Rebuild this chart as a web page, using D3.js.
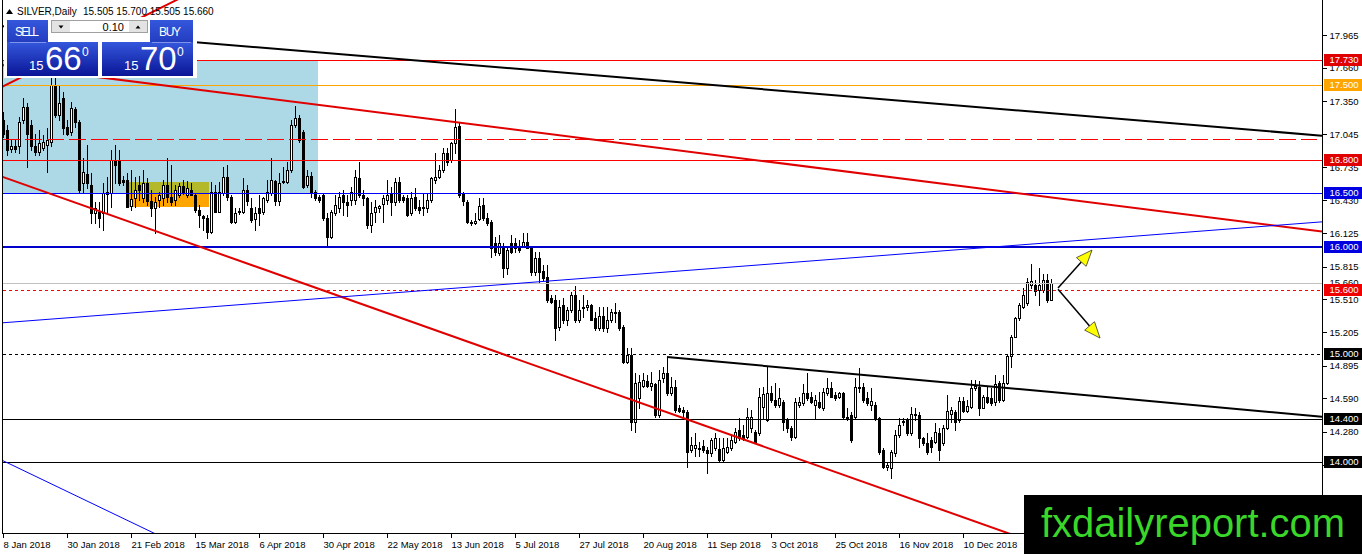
<!DOCTYPE html>
<html>
<head>
<meta charset="utf-8">
<script src="https://cdn.jsdelivr.net/npm/d3@7"></script>
<style>
  html, body { margin: 0; padding: 0; background: #fff; }
  svg { display: block; font-family: "Liberation Sans", Arial, sans-serif; }
</style>
</head>
<body>
<svg id="chart" width="1362" height="554"></svg>
<script>
// -----------------------------
// Data (SILVER daily)
// -----------------------------
const SYMBOL = "SILVER,Daily";

const OPEN = [
  17.18, 17.08, 16.91, 16.93, 16.93, 17.18, 17.30, 17.13, 16.93, 16.88,
  16.92, 16.94, 16.97, 17.50, 17.22, 17.38, 17.11, 17.06, 17.28, 17.16,
  16.59, 16.67, 16.57, 16.31, 16.32, 16.31, 16.49, 16.50, 16.80, 16.80,
  16.62, 16.62, 16.38, 16.45, 16.57, 16.45, 16.59, 16.42, 16.36, 16.43,
  16.45, 16.57, 16.46, 16.43, 16.48, 16.56, 16.48, 16.53, 16.48, 16.34,
  16.28, 16.27, 16.14, 16.51, 16.32, 16.50, 16.65, 16.46, 16.23, 16.33,
  16.32, 16.53, 16.36, 16.26, 16.36, 16.32, 16.43, 16.50, 16.61, 16.42,
  16.61, 16.60, 16.71, 17.13, 17.19, 17.06, 16.57, 16.66, 16.51, 16.46,
  16.48, 16.27, 16.09, 16.31, 16.36, 16.48, 16.41, 16.43, 16.43, 16.64,
  16.48, 16.45, 16.20, 16.32, 16.36, 16.40, 16.43, 16.50, 16.41, 16.60,
  16.46, 16.45, 16.31, 16.46, 16.37, 16.36, 16.36, 16.43, 16.62, 16.65,
  16.71, 16.87, 16.80, 16.96, 17.12, 16.50, 16.41, 16.23, 16.22, 16.26,
  16.39, 16.27, 16.23, 16.03, 15.94, 16.00, 15.80, 16.03, 16.03, 16.01,
  16.01, 16.04, 15.99, 15.76, 15.89, 15.77, 15.72, 15.52, 15.50, 15.25,
  15.46, 15.32, 15.41, 15.55, 15.32, 15.43, 15.44, 15.46, 15.34, 15.24,
  15.36, 15.24, 15.32, 15.38, 15.39, 15.25, 14.93, 14.99, 14.37, 14.59,
  14.71, 14.75, 14.71, 14.72, 14.44, 14.78, 14.83, 14.64, 14.70, 14.50,
  14.48, 14.46, 14.11, 14.13, 14.12, 14.15, 14.11, 14.08, 14.13, 14.12,
  14.02, 14.09, 14.13, 14.19, 14.30, 14.25, 14.23, 14.32, 14.28, 14.27,
  14.51, 14.39, 14.64, 14.58, 14.53, 14.56, 14.39, 14.32, 14.23, 14.53,
  14.55, 14.64, 14.60, 14.53, 14.56, 14.50, 14.64, 14.69, 14.62, 14.60,
  14.64, 14.42, 14.44, 14.42, 14.69, 14.70, 14.59, 14.53, 14.53, 14.41,
  14.11, 13.95, 13.94, 14.08, 14.25, 14.37, 14.39, 14.27, 14.45, 14.44,
  14.22, 14.18, 14.20, 14.19, 14.27, 14.18, 14.32, 14.45, 14.46, 14.39,
  14.57, 14.47, 14.51, 14.69, 14.70, 14.50, 14.60, 14.59, 14.56, 14.73,
  14.58, 14.73, 14.98, 15.16, 15.34, 15.44, 15.48, 15.64, 15.64, 15.60,
  15.60, 15.69, 15.505,
];

const HIGH = [
  17.25, 17.13, 16.99, 16.99, 17.20, 17.38, 17.33, 17.18, 17.05, 17.08,
  17.04, 17.10, 17.57, 17.58, 17.50, 17.44, 17.18, 17.34, 17.30, 17.18,
  16.82, 16.94, 16.68, 16.41, 16.41, 16.59, 16.65, 16.90, 16.94, 16.90,
  16.66, 16.68, 16.71, 16.65, 16.66, 16.71, 16.64, 16.53, 16.46, 16.51,
  16.62, 16.82, 16.76, 16.57, 16.59, 16.62, 16.61, 16.59, 16.50, 16.39,
  16.29, 16.29, 16.60, 16.57, 16.60, 16.74, 16.76, 16.48, 16.36, 16.36,
  16.64, 16.57, 16.45, 16.37, 16.48, 16.46, 16.62, 16.82, 16.62, 16.68,
  16.74, 16.79, 17.18, 17.31, 17.22, 17.08, 16.71, 16.69, 16.53, 16.48,
  16.49, 16.31, 16.34, 16.48, 16.51, 16.53, 16.48, 16.55, 16.71, 16.79,
  16.53, 16.46, 16.41, 16.43, 16.39, 16.48, 16.62, 16.55, 16.64, 16.65,
  16.48, 16.48, 16.51, 16.54, 16.43, 16.50, 16.50, 16.65, 16.87, 16.76,
  16.92, 16.92, 16.97, 17.28, 17.16, 16.51, 16.43, 16.25, 16.31, 16.45,
  16.45, 16.31, 16.25, 16.09, 16.11, 16.03, 16.00, 16.11, 16.08, 16.06,
  16.13, 16.13, 16.01, 15.95, 15.95, 15.83, 15.83, 15.55, 15.55, 15.50,
  15.52, 15.44, 15.58, 15.63, 15.50, 15.55, 15.50, 15.47, 15.39, 15.44,
  15.44, 15.44, 15.42, 15.48, 15.41, 15.27, 15.06, 15.06, 14.83, 14.81,
  14.83, 14.81, 14.84, 14.73, 14.85, 14.88, 14.97, 14.79, 14.76, 14.53,
  14.51, 14.48, 14.23, 14.27, 14.19, 14.20, 14.14, 14.22, 14.27, 14.22,
  14.22, 14.22, 14.25, 14.32, 14.41, 14.34, 14.50, 14.48, 14.30, 14.69,
  14.70, 14.88, 14.71, 14.73, 14.69, 14.58, 14.41, 14.33, 14.59, 14.60,
  14.72, 14.83, 14.65, 14.62, 14.65, 14.69, 14.78, 14.74, 14.65, 14.65,
  14.65, 14.50, 14.46, 14.78, 14.87, 14.73, 14.65, 14.69, 14.56, 14.42,
  14.13, 14.00, 14.11, 14.30, 14.41, 14.41, 14.41, 14.51, 14.50, 14.46,
  14.23, 14.27, 14.23, 14.36, 14.32, 14.34, 14.62, 14.51, 14.48, 14.60,
  14.60, 14.58, 14.76, 14.76, 14.75, 14.62, 14.70, 14.69, 14.81, 14.75,
  14.81, 14.99, 15.18, 15.35, 15.48, 15.62, 15.71, 15.84, 15.69, 15.80,
  15.75, 15.75, 15.70,
];

const LOW = [
  17.02, 16.85, 16.88, 16.88, 16.87, 17.15, 16.74, 16.90, 16.85, 16.85,
  16.90, 16.69, 16.93, 17.20, 17.18, 17.05, 17.04, 17.04, 17.11, 16.51,
  16.51, 16.54, 16.22, 16.22, 16.18, 16.15, 16.31, 16.37, 16.59, 16.57,
  16.57, 16.37, 16.34, 16.37, 16.43, 16.41, 16.39, 16.28, 16.13, 16.37,
  16.39, 16.41, 16.39, 16.39, 16.46, 16.49, 16.46, 16.48, 16.32, 16.18,
  16.15, 16.08, 16.13, 16.32, 16.32, 16.48, 16.43, 16.22, 16.22, 16.30,
  16.31, 16.39, 16.23, 16.15, 16.20, 16.30, 16.41, 16.48, 16.39, 16.39,
  16.59, 16.59, 16.69, 17.11, 16.97, 16.54, 16.55, 16.46, 16.43, 16.41,
  16.25, 16.01, 16.08, 16.29, 16.32, 16.29, 16.28, 16.39, 16.40, 16.46,
  16.39, 16.17, 16.14, 16.23, 16.32, 16.23, 16.40, 16.29, 16.39, 16.41,
  16.41, 16.28, 16.29, 16.34, 16.31, 16.29, 16.32, 16.41, 16.59, 16.64,
  16.69, 16.76, 16.79, 16.87, 16.46, 16.39, 16.22, 16.20, 16.21, 16.25,
  16.25, 16.20, 15.90, 15.92, 15.92, 15.72, 15.75, 15.94, 15.95, 15.95,
  16.00, 15.99, 15.74, 15.74, 15.66, 15.69, 15.49, 15.48, 15.13, 15.23,
  15.29, 15.27, 15.39, 15.30, 15.30, 15.35, 15.41, 15.32, 15.23, 15.23,
  15.22, 15.21, 15.30, 15.30, 15.23, 14.92, 14.92, 14.30, 14.28, 14.50,
  14.70, 14.70, 14.67, 14.42, 14.42, 14.74, 14.62, 14.62, 14.46, 14.46,
  14.42, 13.95, 14.09, 14.06, 14.06, 14.09, 13.90, 14.06, 14.11, 14.01,
  14.01, 14.08, 14.11, 14.18, 14.20, 14.20, 14.22, 14.28, 14.18, 14.25,
  14.41, 14.38, 14.56, 14.51, 14.51, 14.30, 14.28, 14.20, 14.22, 14.51,
  14.53, 14.58, 14.55, 14.41, 14.50, 14.48, 14.62, 14.60, 14.58, 14.59,
  14.41, 14.39, 14.19, 14.41, 14.65, 14.56, 14.53, 14.48, 14.39, 14.07,
  13.94, 13.93, 13.85, 14.06, 14.23, 14.34, 14.25, 14.25, 14.39, 14.14,
  14.16, 14.07, 14.09, 14.18, 14.02, 14.16, 14.31, 14.37, 14.30, 14.37,
  14.46, 14.46, 14.50, 14.67, 14.44, 14.50, 14.55, 14.53, 14.53, 14.56,
  14.57, 14.72, 14.88, 15.16, 15.32, 15.43, 15.46, 15.62, 15.55, 15.46,
  15.58, 15.49, 15.505,
];

const CLOSE = [
  17.05, 16.90, 16.93, 16.91, 17.16, 17.30, 17.05, 16.93, 16.88, 16.96,
  16.97, 16.99, 17.50, 17.22, 17.33, 17.10, 17.05, 17.29, 17.16, 16.53,
  16.69, 16.59, 16.31, 16.36, 16.27, 16.50, 16.51, 16.80, 16.76, 16.59,
  16.60, 16.37, 16.44, 16.53, 16.53, 16.59, 16.42, 16.36, 16.41, 16.48,
  16.57, 16.46, 16.41, 16.53, 16.56, 16.51, 16.54, 16.48, 16.34, 16.29,
  16.27, 16.14, 16.51, 16.32, 16.51, 16.65, 16.46, 16.23, 16.31, 16.32,
  16.53, 16.42, 16.25, 16.31, 16.31, 16.45, 16.51, 16.62, 16.42, 16.59,
  16.60, 16.71, 17.13, 17.19, 16.99, 16.55, 16.66, 16.50, 16.45, 16.43,
  16.27, 16.09, 16.32, 16.39, 16.46, 16.41, 16.39, 16.51, 16.65, 16.48,
  16.45, 16.20, 16.31, 16.37, 16.38, 16.45, 16.48, 16.41, 16.60, 16.43,
  16.43, 16.29, 16.45, 16.36, 16.34, 16.37, 16.43, 16.64, 16.65, 16.71,
  16.87, 16.79, 16.96, 17.11, 16.48, 16.42, 16.23, 16.22, 16.24, 16.38,
  16.27, 16.22, 15.99, 15.95, 16.03, 15.80, 15.97, 15.95, 15.99, 15.97,
  16.04, 15.99, 15.76, 15.89, 15.76, 15.71, 15.50, 15.49, 15.24, 15.44,
  15.32, 15.41, 15.55, 15.32, 15.41, 15.44, 15.46, 15.32, 15.24, 15.36,
  15.24, 15.32, 15.39, 15.39, 15.24, 14.93, 14.99, 14.37, 14.73, 14.74,
  14.76, 14.71, 14.73, 14.44, 14.76, 14.83, 14.64, 14.70, 14.48, 14.47,
  14.46, 14.09, 14.16, 14.16, 14.13, 14.11, 14.08, 14.20, 14.22, 14.02,
  14.13, 14.14, 14.20, 14.28, 14.22, 14.22, 14.42, 14.42, 14.19, 14.60,
  14.63, 14.64, 14.58, 14.53, 14.59, 14.37, 14.32, 14.23, 14.56, 14.56,
  14.64, 14.59, 14.56, 14.58, 14.51, 14.65, 14.69, 14.60, 14.59, 14.64,
  14.42, 14.41, 14.20, 14.70, 14.70, 14.58, 14.55, 14.57, 14.41, 14.09,
  13.95, 13.97, 14.09, 14.25, 14.34, 14.38, 14.27, 14.45, 14.44, 14.22,
  14.18, 14.09, 14.14, 14.28, 14.11, 14.32, 14.47, 14.48, 14.37, 14.57,
  14.47, 14.52, 14.69, 14.71, 14.50, 14.60, 14.56, 14.55, 14.72, 14.58,
  14.73, 14.98, 15.16, 15.34, 15.46, 15.55, 15.67, 15.68, 15.59, 15.64,
  15.69, 15.50, 15.66,
];

// date labels every 16 bars
const X_TICK_BARS = [0, 16, 32, 48, 64, 80, 96, 112, 128, 144, 160, 176, 192, 208, 224, 240];
const X_TICK_LABELS = [
  "8 Jan 2018", "30 Jan 2018", "21 Feb 2018", "15 Mar 2018", "6 Apr 2018",
  "30 Apr 2018", "22 May 2018", "13 Jun 2018", "5 Jul 2018", "27 Jul 2018",
  "20 Aug 2018", "11 Sep 2018", "3 Oct 2018", "25 Oct 2018", "16 Nov 2018",
  "10 Dec 2018",
];

const Y_TICKS = [17.965, 17.66, 17.35, 17.045, 16.735, 16.43, 16.125, 15.815,
  15.51, 15.205, 14.895, 14.59, 14.28, 13.975, 13.67];

// labelled horizontal levels
const LEVEL_NAMES = ["r1", "gold", "r2", "b1", "b2", "rdot", "kdot", "k1", "k2"];
const LEVEL_PRICES = [17.73, 17.5, 16.8, 16.5, 16.0, 15.6, 15.0, 14.4, 14.0];
const DASHED_LEVEL = { price: 17.0, endBar: 328.5 };

// trend lines: start/end as (bar, price)
const TREND_NAMES = ["topBlack", "redUpper", "redSteep", "redLower", "blueRise", "blueFall", "flagBlack"];
const TREND_START_BAR = [-1, -1, -1, -1, -1, -1, 166];
const TREND_START_PRICE = [18.05, 17.69, 17.47, 16.66, 15.29, 14.03, 14.975];
const TREND_END_BAR = [329.75, 329.75, 45, 255, 329.75, 45, 329.75];
const TREND_END_PRICE = [17.03, 16.14, 18.32, 13.29, 16.23, 13.21, 14.42];

// shaded zones
const ZONE_NAMES = ["range", "olive", "orange"];
const ZONE_BAR_START = [-1, 30.75, 30.75];
const ZONE_BAR_END = [78.75, 51.5, 51.5];
const ZONE_TOP = [17.73, 16.60, 16.50];
const ZONE_BOTTOM = [16.50, 16.50, 16.37];

// scenario arrows
const ARROW_FROM_BAR = [263.75, 263.75];
const ARROW_FROM_PRICE = [15.616, 15.605];
const ARROW_TO_BAR = [272.25, 274.25];
const ARROW_TO_PRICE = [15.968, 15.151];

// one click panel quotes
const SELL_QUOTE = ["15", "66", "0"];
const BUY_QUOTE = ["15", "70", "0"];
const LOT = "0.10";

// -----------------------------
// Setup
// -----------------------------
const svg = d3.select("#chart");
const plot = { left: 2.5, right: 1322.5, bottom: 533.5 };

const x = d3.scaleLinear().domain([0, 262]).range([3, 1051]);
const y = d3.scaleLinear().domain([14, 17.965]).range([462, 35]);
const fmt = d3.format(".3f");

const bars = OPEN.map((o, i) => ({ i, o, h: HIGH[i], l: LOW[i], c: CLOSE[i] }));
const last = bars[bars.length - 1];

const defs = svg.append("defs");
defs.append("clipPath").attr("id", "plotClip")
  .append("rect").attr("x", 3).attr("y", 0).attr("width", 1319).attr("height", 533);

const grad = defs.append("linearGradient").attr("id", "blueGrad")
  .attr("x1", 0).attr("y1", 0).attr("x2", 0).attr("y2", 1);
grad.append("stop").attr("offset", "0%").attr("stop-color", "#3457dc");
grad.append("stop").attr("offset", "100%").attr("stop-color", "#0a1596");

svg.append("rect").attr("width", 1362).attr("height", 554).attr("fill", "#fff");

const plotG = svg.append("g").attr("clip-path", "url(#plotClip)");

// -----------------------------
// Zones
// -----------------------------
const ZONE_COLORS = { range: "#add8e6", olive: "#b4b92c", orange: "#ffa500" };
plotG.append("g").attr("shape-rendering", "crispEdges")
  .selectAll("rect")
  .data(ZONE_NAMES.map((n, k) => ({ n, k })))
  .join("rect")
  .attr("x", (d) => x(ZONE_BAR_START[d.k]))
  .attr("y", (d) => y(ZONE_TOP[d.k]))
  .attr("width", (d) => x(ZONE_BAR_END[d.k]) - x(ZONE_BAR_START[d.k]))
  .attr("height", (d) => y(ZONE_BOTTOM[d.k]) - y(ZONE_TOP[d.k]))
  .attr("fill", (d) => ZONE_COLORS[d.n]);

// -----------------------------
// Candles
// -----------------------------
const candleG = plotG.append("g").attr("shape-rendering", "crispEdges");
const cx = (d) => Math.round(x(d.i));

candleG.selectAll("line")
  .data(bars)
  .join("line")
  .attr("x1", (d) => cx(d) + 0.5)
  .attr("x2", (d) => cx(d) + 0.5)
  .attr("y1", (d) => Math.round(y(d.h)))
  .attr("y2", (d) => Math.round(y(d.l)) + 1)
  .attr("stroke", "#000");

candleG.selectAll("rect")
  .data(bars)
  .join("rect")
  .each(function (d) {
    const top = Math.round(y(Math.max(d.o, d.c)));
    const bot = Math.round(y(Math.min(d.o, d.c)));
    const r = d3.select(this);
    if (d.c >= d.o) {
      r.attr("x", cx(d) - 0.5).attr("y", top + 0.5)
        .attr("width", 2).attr("height", Math.max(0, bot - top))
        .attr("fill", "#fff").attr("stroke", "#000");
    } else {
      r.attr("x", cx(d) - 1).attr("y", top)
        .attr("width", 3).attr("height", Math.max(1, bot - top + 1))
        .attr("fill", "#000");
    }
  });

// -----------------------------
// Horizontal levels
// -----------------------------
const LEVEL_STYLE = {
  r1: { stroke: "#ff0000", width: 1, dash: null, box: "#e00000", text: "#fff" },
  gold: { stroke: "#ffa500", width: 1, dash: null, box: "#ffa500", text: "#fff" },
  r2: { stroke: "#ff0000", width: 1, dash: null, box: "#e00000", text: "#fff" },
  b1: { stroke: "#0000ff", width: 1, dash: null, box: "#0000e0", text: "#fff" },
  b2: { stroke: "#0000cd", width: 2, dash: null, box: "#0000e0", text: "#fff" },
  rdot: { stroke: "#ff0000", width: 1, dash: "3,3", box: "#f00000", text: "#fff" },
  kdot: { stroke: "#000", width: 1, dash: "3,3", box: "#000", text: "#fff" },
  k1: { stroke: "#000", width: 1, dash: null, box: "#000", text: "#fff" },
  k2: { stroke: "#000", width: 1, dash: null, box: "#000", text: "#fff" },
};

const levelG = plotG.append("g").attr("shape-rendering", "crispEdges");

// bid line
levelG.append("line")
  .attr("x1", plot.left).attr("x2", plot.right)
  .attr("y1", Math.round(y(last.c)) + 0.5).attr("y2", Math.round(y(last.c)) + 0.5)
  .attr("stroke", "#c0c0c0");

levelG.append("line")
  .attr("x1", plot.left).attr("x2", x(DASHED_LEVEL.endBar))
  .attr("y1", Math.round(y(DASHED_LEVEL.price)) + 0.5)
  .attr("y2", Math.round(y(DASHED_LEVEL.price)) + 0.5)
  .attr("stroke", "#ff0000").attr("stroke-dasharray", "17,5");

levelG.selectAll("line.level")
  .data(LEVEL_NAMES.map((n, k) => ({ n, p: LEVEL_PRICES[k] })))
  .join("line")
  .attr("class", "level")
  .attr("x1", plot.left).attr("x2", plot.right)
  .attr("y1", (d) => Math.round(y(d.p)) + (LEVEL_STYLE[d.n].width === 2 ? 0 : 0.5))
  .attr("y2", (d) => Math.round(y(d.p)) + (LEVEL_STYLE[d.n].width === 2 ? 0 : 0.5))
  .attr("stroke", (d) => LEVEL_STYLE[d.n].stroke)
  .attr("stroke-width", (d) => LEVEL_STYLE[d.n].width)
  .attr("stroke-dasharray", (d) => LEVEL_STYLE[d.n].dash);

// -----------------------------
// Trend lines
// -----------------------------
const TREND_STYLE = {
  topBlack: { stroke: "#000", width: 2 },
  redUpper: { stroke: "#e00000", width: 2 },
  redSteep: { stroke: "#e00000", width: 2 },
  redLower: { stroke: "#e00000", width: 2 },
  blueRise: { stroke: "#0000ff", width: 1 },
  blueFall: { stroke: "#0000ff", width: 1 },
  flagBlack: { stroke: "#000", width: 2 },
};

const line = d3.line().x((d) => x(d[0])).y((d) => y(d[1]));

plotG.append("g")
  .selectAll("path")
  .data(TREND_NAMES.map((n, k) => ({
    n,
    pts: [[TREND_START_BAR[k], TREND_START_PRICE[k]], [TREND_END_BAR[k], TREND_END_PRICE[k]]],
  })))
  .join("path")
  .attr("d", (d) => line(d.pts))
  .attr("fill", "none")
  .attr("stroke", (d) => TREND_STYLE[d.n].stroke)
  .attr("stroke-width", (d) => TREND_STYLE[d.n].width);

// -----------------------------
// Arrows
// -----------------------------
const arrowG = plotG.append("g");
ARROW_FROM_BAR.forEach((fb, k) => {
  const x0 = x(fb), y0 = y(ARROW_FROM_PRICE[k]);
  const x1 = x(ARROW_TO_BAR[k]), y1 = y(ARROW_TO_PRICE[k]);
  const ang = Math.atan2(y1 - y0, x1 - x0);
  const len = 16, half = 6.5;
  const bx = x1 - len * Math.cos(ang), by = y1 - len * Math.sin(ang);
  const px = -Math.sin(ang) * half, py = Math.cos(ang) * half;

  arrowG.append("line")
    .attr("x1", x0).attr("y1", y0).attr("x2", bx).attr("y2", by)
    .attr("stroke", "#000").attr("stroke-width", 1.5);

  arrowG.append("path")
    .attr("d", `M${x1},${y1}L${bx + px},${by + py}L${bx - px},${by - py}Z`)
    .attr("fill", "#ffff00")
    .attr("stroke", "#333")
    .attr("stroke-width", 0.8);
});

// -----------------------------
// Frame + axes
// -----------------------------
const frame = svg.append("g").attr("shape-rendering", "crispEdges").attr("stroke", "#000");
frame.append("line").attr("x1", plot.left).attr("x2", plot.left).attr("y1", 0).attr("y2", plot.bottom);
frame.append("line").attr("x1", plot.right).attr("x2", plot.right).attr("y1", 0).attr("y2", plot.bottom);
frame.append("line").attr("x1", plot.left).attr("x2", plot.right).attr("y1", plot.bottom).attr("y2", plot.bottom);

const yAxis = d3.axisRight(y)
  .tickValues(Y_TICKS)
  .tickFormat(fmt)
  .tickSize(4)
  .tickPadding(3);

svg.append("g")
  .attr("transform", `translate(${plot.right},0)`)
  .call(yAxis)
  .call((g) => g.select(".domain").remove())
  .call((g) => g.selectAll("line").attr("stroke", "#000").attr("shape-rendering", "crispEdges"))
  .call((g) => g.selectAll("text")
    .style("font-family", "'Liberation Sans', Arial, sans-serif")
    .style("font-size", "9.5px")
    .attr("fill", "#000"));

const xAxis = d3.axisBottom(x)
  .tickValues(X_TICK_BARS)
  .tickFormat((d, k) => X_TICK_LABELS[k])
  .tickSize(4)
  .tickPadding(4);

svg.append("g")
  .attr("transform", `translate(0,${plot.bottom})`)
  .call(xAxis)
  .call((g) => g.select(".domain").remove())
  .call((g) => g.selectAll("line").attr("stroke", "#000").attr("shape-rendering", "crispEdges"))
  .call((g) => g.selectAll("text")
    .attr("text-anchor", "start")
    .attr("x", 0)
    .style("font-family", "'Liberation Sans', Arial, sans-serif")
    .style("font-size", "9.5px")
    .attr("fill", "#000"));

// price labels on the right scale
const labelG = svg.append("g").attr("shape-rendering", "crispEdges");

function priceLabel(p, box, color) {
  const yc = Math.round(y(p));
  const g = labelG.append("g");
  if (box) {
    g.append("rect")
      .attr("x", plot.right + 1).attr("y", yc - 6)
      .attr("width", 38).attr("height", 12)
      .attr("fill", box);
  }
  g.append("text")
    .attr("x", plot.right + 7).attr("y", yc)
    .attr("dy", "0.35em")
    .attr("fill", color)
    .style("font-size", "9.5px")
    .text(fmt(p));
}

priceLabel(last.c, "#fff", "#000");
LEVEL_NAMES.forEach((n, k) => priceLabel(LEVEL_PRICES[k], LEVEL_STYLE[n].box, LEVEL_STYLE[n].text));

// -----------------------------
// Header
// -----------------------------
const header = svg.append("g").style("font-size", "10px").attr("fill", "#000");
header.append("path").attr("d", "M6,14L9.5,9L13,14Z").attr("fill", "#000");
header.append("text").attr("x", 17).attr("y", 15).text(SYMBOL);
header.append("text").attr("x", 83).attr("y", 15)
  .text([last.o, last.h, last.l, last.c].map(fmt).join(" "));

// -----------------------------
// One click trading panel
// -----------------------------
const panel = svg.append("g").attr("shape-rendering", "crispEdges");
panel.append("rect").attr("x", 4).attr("y", 17).attr("width", 193).attr("height", 61)
  .attr("fill", "#fff");

// sell / buy buttons
panel.append("rect").attr("x", 7).attr("y", 20).attr("width", 41).attr("height", 56)
  .attr("fill", "url(#blueGrad)");
panel.append("rect").attr("x", 7).attr("y", 42).attr("width", 91).attr("height", 34)
  .attr("fill", "url(#blueGrad)");
panel.append("rect").attr("x", 150).attr("y", 20).attr("width", 43).attr("height", 56)
  .attr("fill", "url(#blueGrad)");
panel.append("rect").attr("x", 102).attr("y", 42).attr("width", 91).attr("height", 34)
  .attr("fill", "url(#blueGrad)");
panel.append("line").attr("x1", 10).attr("x2", 46).attr("y1", 42.5).attr("y2", 42.5)
  .attr("stroke", "#7f93ea");
panel.append("line").attr("x1", 152).attr("x2", 191).attr("y1", 42.5).attr("y2", 42.5)
  .attr("stroke", "#7f93ea");

// lot spinner
panel.append("rect").attr("x", 51.5).attr("y", 20.5).attr("width", 96).attr("height", 12)
  .attr("fill", "#fff").attr("stroke", "#a0a0a0");
panel.append("rect").attr("x", 52).attr("y", 21).attr("width", 18).attr("height", 11)
  .attr("fill", "#e3e3e3");
panel.append("rect").attr("x", 129).attr("y", 21).attr("width", 18).attr("height", 11)
  .attr("fill", "#e3e3e3");
panel.append("path").attr("d", "M58.5,25.5L63.5,25.5L61,28.5Z").attr("fill", "#000")
  .attr("shape-rendering", "auto");
panel.append("path").attr("d", "M135.5,28.5L140.5,28.5L138,25.5Z").attr("fill", "#000")
  .attr("shape-rendering", "auto");

const ptext = svg.append("g").attr("fill", "#fff");
ptext.append("text").attr("x", 27).attr("y", 36).attr("text-anchor", "middle")
  .style("font-size", "12px").attr("textLength", 24).text("SELL");
ptext.append("text").attr("x", 170).attr("y", 36).attr("text-anchor", "middle")
  .style("font-size", "12px").attr("textLength", 22).text("BUY");
ptext.append("text").attr("x", 124).attr("y", 31).attr("text-anchor", "end")
  .attr("fill", "#000").style("font-size", "11px").text(LOT);

function quote(q, left) {
  ptext.append("text").attr("x", left).attr("y", 70).style("font-size", "13px").text(q[0]);
  ptext.append("text").attr("x", left + 16).attr("y", 70).style("font-size", "33px").text(q[1]);
  ptext.append("text").attr("x", left + 53).attr("y", 56).style("font-size", "12px").text(q[2]);
}
quote(SELL_QUOTE, 29);
quote(BUY_QUOTE, 124);

// -----------------------------
// Watermark
// -----------------------------
svg.append("rect").attr("x", 1024).attr("y", 495).attr("width", 338).attr("height", 59)
  .attr("fill", "#000");
svg.append("text")
  .attr("x", 1041).attr("y", 537)
  .attr("fill", "#3ad62a")
  .style("font-family", "'Liberation Sans Narrow', 'Liberation Sans', Arial, sans-serif")
  .style("font-size", "41px")
  .attr("textLength", 304)
  .attr("lengthAdjust", "spacingAndGlyphs")
  .text("fxdailyreport.com");
</script>
</body>
</html>
